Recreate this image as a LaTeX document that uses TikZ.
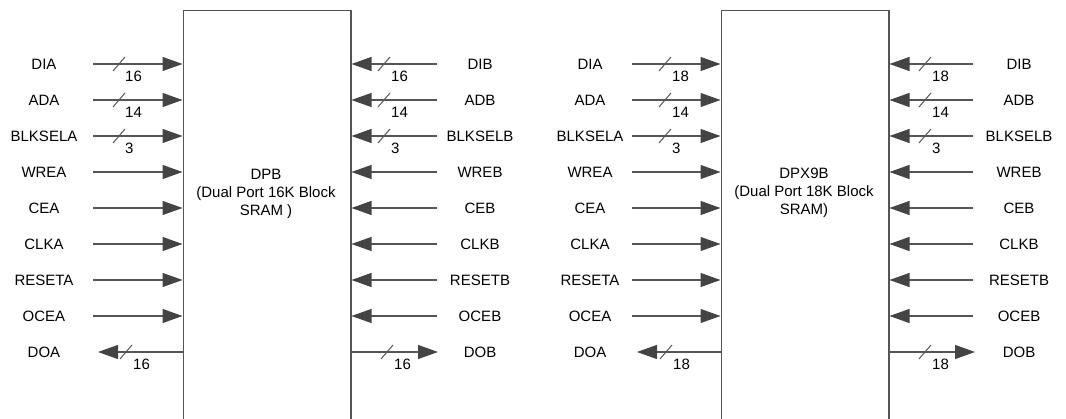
\documentclass[tikz,border=0pt]{standalone}
\usepackage{fontspec}
\setmainfont{Liberation Sans}
\usetikzlibrary{arrows.meta}
\definecolor{ln}{HTML}{555555}
\definecolor{tipc}{HTML}{444444}
\begin{document}
\begin{tikzpicture}[x=1pt,y=-1pt,
  font=\fontsize{15}{18}\selectfont,
  sig/.style={draw=ln, line width=1.2pt, -{Triangle[length=20pt,width=14pt,color=tipc]}},
  blk/.style={draw=ln, line width=1.5pt, anchor=north west, minimum height=440pt, inner sep=0pt},
  lbl/.style={inner sep=0pt},
  bits/.style={inner sep=0pt, anchor=west},
  slash/.style={draw=ln, line width=1pt}]
\useasboundingbox (0,0) rectangle (1066,419);
\clip (0,0) rectangle (1066,419);

% blocks
\node[blk, minimum width=167.5pt] (dpb) at (182.5,10) {};
\node[blk, minimum width=167.5pt] (dpx) at (720.5,10) {};
\node[lbl, align=center] (dpbt) at (266,194) {DPB\\(Dual Port 16K Block\\SRAM )};
\node[lbl, align=center] (dpxt) at (804,193) {DPX9B\\(Dual Port 18K Block\\SRAM)};

% ---------- block 1, port A inputs
\foreach \s/\y in {DIA/64,ADA/100,BLKSELA/136,WREA/172,CEA/208,CLKA/244,RESETA/280,OCEA/316}{
  \node[lbl] (la\s) at (44,\y) {\s};
  \coordinate (sa\s) at (93,\y);
  \draw[sig] (sa\s) -- (sa\s -| dpb.west);
}
\foreach \s/\y/\b in {DIA/64/16,ADA/100/14,BLKSELA/136/3}{
  \coordinate (ka\s) at (119,\y);
  \draw[slash] ([shift={(-6,7)}]ka\s) -- ([shift={(6,-7)}]ka\s);
  \node[bits] (na\s) at ([shift={(6,12)}]ka\s) {\b};
}
% block 1, port B inputs
\foreach \s/\y in {DIB/64,ADB/100,BLKSELB/136,WREB/172,CEB/208,CLKB/244,RESETB/280,OCEB/316}{
  \node[lbl] (lb\s) at (480,\y) {\s};
  \coordinate (sb\s) at (437,\y);
  \draw[sig] (sb\s) -- (sb\s -| dpb.east);
}
\foreach \s/\y/\b in {DIB/64/16,ADB/100/14,BLKSELB/136/3}{
  \coordinate (kb\s) at (384,\y);
  \draw[slash] ([shift={(-6,7)}]kb\s) -- ([shift={(6,-7)}]kb\s);
  \node[bits] (nb\s) at ([shift={(7,12)}]kb\s) {\b};
}
% block 1 outputs
\node[lbl] (laDOA) at (44,352) {DOA};
\coordinate (taDOA) at (98,352);
\draw[sig] (taDOA -| dpb.west) -- (taDOA);
\coordinate (kaDOA) at (126,352);
\draw[slash] ([shift={(-6,7)}]kaDOA) -- ([shift={(6,-7)}]kaDOA);
\node[bits] (naDOA) at ([shift={(7,12)}]kaDOA) {16};

\node[lbl] (lbDOB) at (480,352) {DOB};
\coordinate (tbDOB) at (438,352);
\draw[sig] (tbDOB -| dpb.east) -- (tbDOB);
\coordinate (kbDOB) at (387,352);
\draw[slash] ([shift={(-6,7)}]kbDOB) -- ([shift={(6,-7)}]kbDOB);
\node[bits] (nbDOB) at ([shift={(7,12)}]kbDOB) {16};

% ---------- block 2, port A inputs
\foreach \s/\y in {DIA/64,ADA/100,BLKSELA/136,WREA/172,CEA/208,CLKA/244,RESETA/280,OCEA/316}{
  \node[lbl] (lc\s) at (590,\y) {\s};
  \coordinate (sc\s) at (632,\y);
  \draw[sig] (sc\s) -- (sc\s -| dpx.west);
}
\foreach \s/\y/\b in {DIA/64/18,ADA/100/14,BLKSELA/136/3}{
  \coordinate (kc\s) at (665,\y);
  \draw[slash] ([shift={(-6,7)}]kc\s) -- ([shift={(6,-7)}]kc\s);
  \node[bits] (nc\s) at ([shift={(7,12)}]kc\s) {\b};
}
% block 2, port B inputs
\foreach \s/\y in {DIB/64,ADB/100,BLKSELB/136,WREB/172,CEB/208,CLKB/244,RESETB/280,OCEB/316}{
  \node[lbl] (ld\s) at (1019,\y) {\s};
  \coordinate (sd\s) at (973,\y);
  \draw[sig] (sd\s) -- (sd\s -| dpx.east);
}
\foreach \s/\y/\b in {DIB/64/18,ADB/100/14,BLKSELB/136/3}{
  \coordinate (kd\s) at (925,\y);
  \draw[slash] ([shift={(-6,7)}]kd\s) -- ([shift={(6,-7)}]kd\s);
  \node[bits] (nd\s) at ([shift={(7,12)}]kd\s) {\b};
}
% block 2 outputs
\node[lbl] (lcDOA) at (590,352) {DOA};
\coordinate (tcDOA) at (637,352);
\draw[sig] (tcDOA -| dpx.west) -- (tcDOA);
\coordinate (kcDOA) at (666,352);
\draw[slash] ([shift={(-6,7)}]kcDOA) -- ([shift={(6,-7)}]kcDOA);
\node[bits] (ncDOA) at ([shift={(7,12)}]kcDOA) {18};

\node[lbl] (ldDOB) at (1019,352) {DOB};
\coordinate (tdDOB) at (975,352);
\draw[sig] (tdDOB -| dpx.east) -- (tdDOB);
\coordinate (kdDOB) at (925,352);
\draw[slash] ([shift={(-6,7)}]kdDOB) -- ([shift={(6,-7)}]kdDOB);
\node[bits] (ndDOB) at ([shift={(7,12)}]kdDOB) {18};
\end{tikzpicture}
\end{document}
